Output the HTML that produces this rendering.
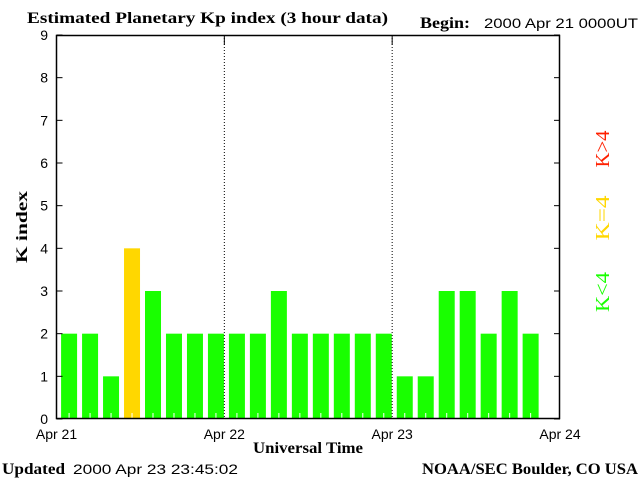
<!DOCTYPE html>
<html><head><meta charset="utf-8"><style>
html,body{margin:0;padding:0;background:#fff;}
svg{display:block;}
.s{font-family:"Liberation Serif",serif;font-weight:bold;font-size:16px;}
.n{font-family:"Liberation Sans",sans-serif;font-size:14px;}
.lg{font-family:"Liberation Serif",serif;font-size:20px;}
</style></head><body>
<svg id="chart" width="640" height="480" xmlns="http://www.w3.org/2000/svg">
<text class="s" x="27" y="23" textLength="361" lengthAdjust="spacingAndGlyphs">Estimated Planetary Kp index (3 hour data)</text>
<text class="s" x="420" y="28" textLength="50" lengthAdjust="spacingAndGlyphs">Begin:</text>
<text class="n" x="484" y="28" textLength="154" lengthAdjust="spacingAndGlyphs">2000 Apr 21 0000UT</text>
<g id="bars"></g>
<rect x="56.5" y="35.5" width="503" height="383" fill="none" stroke="#000" stroke-width="1.5"/>
<g id="axes"></g>
<text class="s" x="27" y="227" transform="rotate(-90 27 227)" text-anchor="middle" textLength="72" lengthAdjust="spacingAndGlyphs">K index</text>
<text class="s" x="308" y="453" text-anchor="middle" textLength="110" lengthAdjust="spacingAndGlyphs">Universal Time</text>
<text class="s" x="2" y="474" textLength="63" lengthAdjust="spacingAndGlyphs">Updated</text>
<text class="n" x="73" y="474" textLength="165" lengthAdjust="spacingAndGlyphs">2000 Apr 23 23:45:02</text>
<text class="s" x="422" y="474" textLength="216" lengthAdjust="spacingAndGlyphs">NOAA/SEC Boulder, CO USA</text>
<text class="lg" x="609" y="149" transform="rotate(-90 609 149)" text-anchor="middle" fill="#ff2000" textLength="37" lengthAdjust="spacingAndGlyphs">K&gt;4</text>
<text class="lg" x="609" y="218" transform="rotate(-90 609 218)" text-anchor="middle" fill="#ffd700" textLength="45" lengthAdjust="spacingAndGlyphs">K=4</text>
<text class="lg" x="609" y="292" transform="rotate(-90 609 292)" text-anchor="middle" fill="#19ff00" textLength="40" lengthAdjust="spacingAndGlyphs">K&lt;4</text>
</svg>
<script>
const kpValues=[2,2,1,4,3,2,2,2,2,2,3,2,2,2,2,2,1,1,3,3,2,3,2];
const yTicks=[0,1,2,3,4,5,6,7,8,9];
const dayLabels=["Apr 21","Apr 22","Apr 23","Apr 24"];
const NS="http://www.w3.org/2000/svg";
const X0=56.5,X1=560,Y0=419,Y1=35;
function yS(v){return Y0-(Y0-Y1)*v/9;}
function xDay(d){return X0+(X1-X0)*d/3;}
function xSlot(i){return X0+(X1-X0)*(i+0.6)/24;}
function mk(t,a,p){const e=document.createElementNS(NS,t);for(const k in a)e.setAttribute(k,a[k]);p.appendChild(e);return e;}
const bars=document.getElementById('bars'),axes=document.getElementById('axes');
kpValues.forEach((v,i)=>{
 const c=v>4?'#ff2000':(v==4?'#ffd700':'#19ff00');
 const cx=xSlot(i);
 const r=mk('rect',{x:cx-8,y:yS(v),width:16,height:Y0-yS(v),fill:c},bars);
 
 
 mk('line',{x1:cx,x2:cx,y1:Y0-6,y2:Y0,stroke:'#fff','stroke-width':1},bars);
});
yTicks.forEach(t=>{
 const y=yS(t);
 mk('line',{x1:X0,x2:X0+6,y1:y,y2:y,stroke:'#000'},axes);
 mk('line',{x1:X1-6,x2:X1,y1:y,y2:y,stroke:'#000'},axes);
 const tx=mk('text',{x:48,y:y+5,'text-anchor':'end',class:'n'},axes);
 tx.textContent=t;
 
 
});
dayLabels.forEach((d,i)=>{
 const x=xDay(i);
 if(i>0&&i<3){
  const l=mk('line',{x1:x,x2:x,y1:Y1,y2:Y0,stroke:'#000','stroke-dasharray':'1,2'},axes);
  
  
  mk('line',{x1:x,x2:x,y1:Y1,y2:Y1+10,stroke:'#000'},axes);
 }
 const tx=mk('text',{x:x,y:439,'text-anchor':'middle',class:'n'},axes);
 tx.textContent=d;
 
 
});
</script>
</body></html>
